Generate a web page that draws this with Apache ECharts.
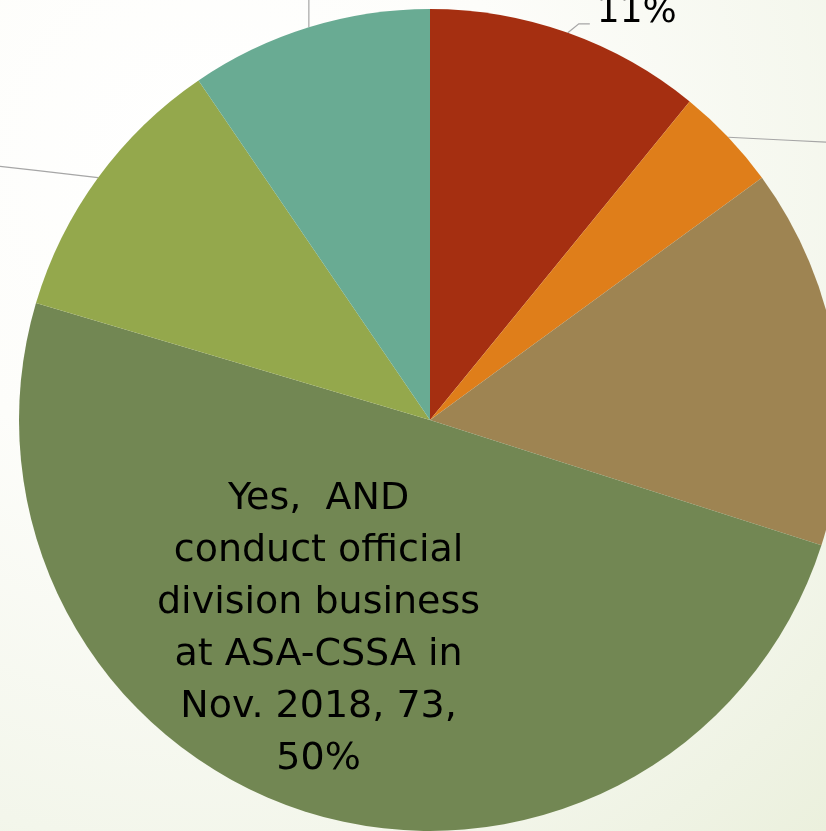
<!DOCTYPE html>
<html>
<head>
<meta charset="utf-8">
<script src="https://cdn.jsdelivr.net/npm/echarts@6/dist/echarts.min.js"></script>
<style>
  html, body { margin: 0; padding: 0; }
  body {
    width: 826px; height: 831px; overflow: hidden;
    background: radial-gradient(circle at 25% 20%, #ffffff 0%, #fdfdfa 35%, #f3f6eb 75%, #ebf0dd 100%);
  }
  #main { width: 826px; height: 831px; }
</style>
</head>
<body>
<div id="main"></div>
<script>
// 调查结果（切片顺序：从 12 点钟方向顺时针）
var categories = [
    'Response A',
    'Response B',
    'Response C',
    'Yes,  AND\nconduct official\ndivision business\nat ASA-CSSA in\nNov. 2018',
    'Response D',
    'Response E'
];
var counts = [16, 6, 22, 73, 16, 14];
var colors = ['#a52f11', '#df7e1a', '#9e8452', '#728753', '#94a84c', '#69ab93'];

var chart = echarts.init(document.getElementById('main'), null, { renderer: 'canvas' });

var pieData = [];
for (var i = 0; i < categories.length; i++) {
    pieData.push({ name: categories[i], value: counts[i], itemStyle: { color: colors[i] } });
}
// 第一块只显示百分比，主切片的标签放在扇区内部
pieData[0].label = { formatter: '{d}%' };
pieData[3].label = { position: 'inside', formatter: '{b}, {c},\n{d}%', lineHeight: 52, align: 'center', fontSize: 38 };

var option = {
    backgroundColor: 'transparent',
    animation: false,
    series: [{
        type: 'pie',
        center: [430, 420],
        radius: 411,
        startAngle: 90,
        clockwise: true,
        percentPrecision: 0,
        avoidLabelOverlap: false,
        data: pieData,
        label: {
            show: true,
            position: 'outside',
            formatter: '{b}, {c}, {d}%',
            color: '#000',
            fontFamily: 'DejaVu Sans',
            fontSize: 36
        },
        labelLine: {
            show: true,
            length: 20,
            length2: 20,
            lineStyle: { color: '#a6a6a6', width: 1.2 }
        },
        labelLayout: function (params) {
            var i = params.dataIndex;
            if (i === 3) {
                return { dx: -50, dy: 10 };
            }
            var p = params.labelLinePoints;
            if (!p) return;
            var a = p[0];
            if (i === 0) {
                return {
                    x: a[0] + 29, y: a[1] - 20, align: 'left', verticalAlign: 'middle',
                    labelLinePoints: [a, [a[0] + 11, a[1] - 9], [a[0] + 22, a[1] - 9]]
                };
            }
            if (i === 1) {
                return {
                    x: a[0] + 130, y: a[1] + 6, align: 'left', verticalAlign: 'middle',
                    labelLinePoints: [a, [a[0] + 60, a[1] + 3], [a[0] + 122, a[1] + 6]]
                };
            }
            if (i === 2) {
                return {
                    x: a[0] + 50, y: a[1], align: 'left', verticalAlign: 'middle',
                    labelLinePoints: [a, [a[0] + 20, a[1]], [a[0] + 40, a[1]]]
                };
            }
            if (i === 4) {
                return {
                    x: a[0] - 130, y: a[1] - 14, align: 'right', verticalAlign: 'middle',
                    labelLinePoints: [a, [a[0] - 60, a[1] - 7], [a[0] - 122, a[1] - 14]]
                };
            }
            if (i === 5) {
                return {
                    x: a[0], y: a[1] - 50, align: 'center', verticalAlign: 'bottom',
                    labelLinePoints: [a, [a[0], a[1] - 25], [a[0], a[1] - 45]]
                };
            }
        }
    }]
};

chart.setOption(option);
</script>
</body>
</html>
